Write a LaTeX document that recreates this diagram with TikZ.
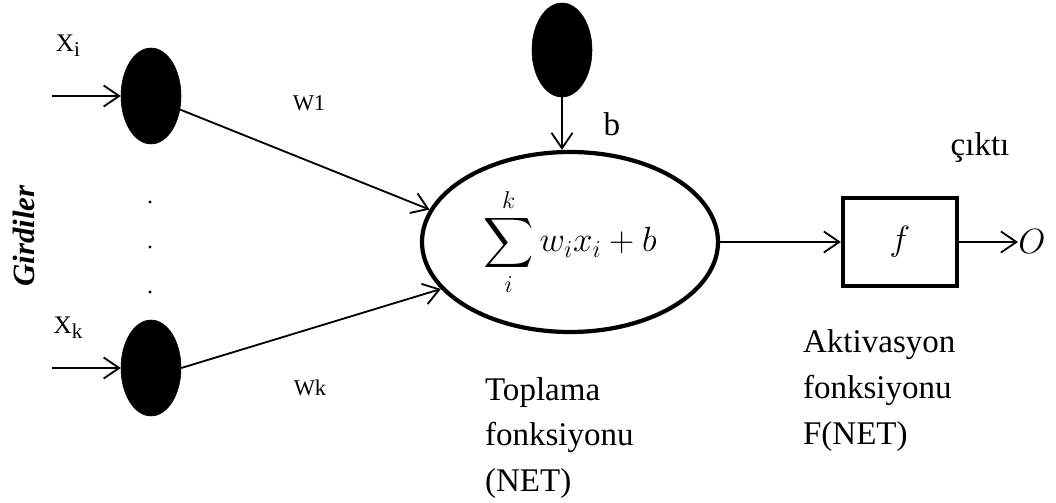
\documentclass[tikz,border=0pt]{standalone}
\usepackage{amsmath}
\usepackage{fontspec}
\setmainfont{Liberation Serif}
\usetikzlibrary{arrows.meta,positioning,shapes.geometric}
\tikzset{
  inputnode/.style={ellipse, fill=black, draw=black, minimum width=1.5cm, minimum height=2.4cm, inner sep=0pt},
  sumnode/.style={ellipse, draw=black, line width=3pt, minimum width=7.4cm, minimum height=4.5cm, inner sep=0pt, font=\fontsize{24}{28}\selectfont},
  actbox/.style={rectangle, draw=black, line width=3pt, minimum width=2.85cm, minimum height=2.2cm, inner sep=0pt, font=\fontsize{23.5}{28}\selectfont},
  sigedge/.style={-{Straight Barb[length=11pt,width=15pt]}, line width=1.3pt, draw=black},
  biglbl/.style={font=\fontsize{23.5}{32.5}\selectfont, inner sep=0pt, align=left},
  smalllbl/.style={font=\fontsize{16}{18}\selectfont, inner sep=0pt}
}
\newcommand{\insub}[1]{\raisebox{-0.45ex}{\fontsize{15}{15}\selectfont #1}}

\begin{document}
\begin{tikzpicture}
  \useasboundingbox (0,0) rectangle (26.4,12.55);
  % inputs
  \node[inputnode] (in1) at (3.775,10.15) {};
  \node[inputnode] (in2) at (3.775,3.35) {};
  \coordinate (src1) at (1.3,10.15);
  \coordinate (src2) at (1.3,3.35);
  \draw[sigedge] (src1) -- (in1);
  \draw[sigedge] (src2) -- (in2);
  \node[smalllbl, font=\fontsize{18}{20}\selectfont] (xi) at (1.7,11.4) {X\insub{i}};
  \node[smalllbl, font=\fontsize{18}{20}\selectfont] (xk) at (1.7,4.35) {X\insub{k}};
  \foreach \y/\n in {7.5/1,6.375/2,5.25/3}
    \fill (3.75,\y) circle (1.2pt) node (dot\n) {};
  \node[font=\fontsize{22}{26}\selectfont\bfseries\itshape, rotate=90] (girdiler) at (0.6,6.65) {Girdiler};

  % summation
  \node[sumnode] (sum) at (14.25,6.5) {$\displaystyle\sum_{i}^{k} w_i x_i + b$};
  \node[inputnode, minimum height=2.35cm] (bias) at (14.05,11.3) {};
  \draw[sigedge] (bias) -- (bias |- sum.north);
  \node[biglbl] (blbl) at (15.3,9.45) {b};
  \draw[sigedge] (in1.-25) -- (sum.167);
  \draw[sigedge] (in2.east) -- (sum.200);
  \node[smalllbl] (w1) at (7.725,9.975) {W1};
  \node[smalllbl] (wk) at (7.75,2.85) {Wk};

  % activation
  \node[actbox] (act) at (22.5,6.5) {$f$};
  \draw[sigedge] (sum.east) -- (act.west);
  \coordinate (outend) at (25.45,6.5);
  \draw[sigedge] (act.east) -- (outend);
  \node[biglbl, anchor=west] (out) at (outend) {$O$};
  \node[biglbl] (cikti) at (24.5,8.85) {çıktı};

  % captions
  \node[biglbl, anchor=north west] (toplama) at (12.12,3.13) {Toplama\\fonksiyonu\\(NET)};
  \node[biglbl, anchor=north west] (aktiv) at (20.07,4.31) {Aktivasyon\\fonksiyonu\\F(NET)};
\end{tikzpicture}
\end{document}
